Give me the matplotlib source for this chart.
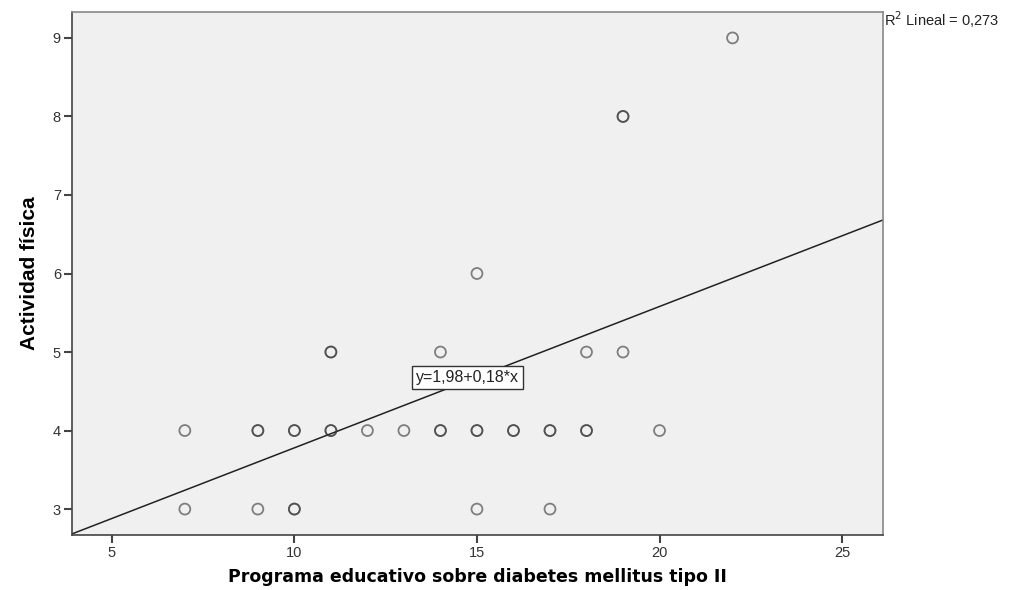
import numpy as np
import matplotlib.pyplot as plt

# programa educativo score vs actividad física score (repeated pairs listed as often as they occur)
programa = [7, 7, 9, 9, 9, 10, 10, 10, 10, 11, 11, 11, 11, 12, 13, 14, 14, 14,
            15, 15, 15, 15, 16, 16, 17, 17, 17, 18, 18, 18, 19, 19, 19, 20, 22]
actividad = [4, 3, 4, 4, 3, 4, 4, 3, 3, 5, 5, 4, 4, 4, 4, 5, 4, 4,
             6, 4, 4, 3, 4, 4, 4, 4, 3, 5, 4, 4, 8, 8, 5, 4, 9]

intercept = 1.98
slope = 0.18
r2 = 0.273

xlim = (3.91, 26.12)
ylim = (2.67, 9.33)

fig = plt.figure(figsize=(10.22, 5.9), dpi=100)
ax = fig.add_axes([72 / 1022, 1 - 535 / 590, (883 - 72) / 1022, (535 - 12) / 590])
ax.set_facecolor('#f0f0f0')

ax.scatter(programa, actividad, s=62, facecolors='none',
           edgecolors=(0.2, 0.2, 0.2, 0.6), linewidths=1.3, zorder=3)

xx = np.array(xlim)
ax.plot(xx, intercept + slope * xx, color='#222222', lw=1.1, zorder=2)

ax.text(14.73, 4.67, 'y=1,98+0,18*x', ha='center', va='center', fontsize=11.5,
        family='Liberation Sans', color='#222222', zorder=4,
        bbox=dict(boxstyle='square,pad=0.25', fc='white', ec='#333333', lw=1))

ax.set_xlim(xlim)
ax.set_ylim(ylim)
ax.set_xticks([5, 10, 15, 20, 25])
ax.set_yticks([3, 4, 5, 6, 7, 8, 9])

for s in ax.spines.values():
    s.set_color('#444444')
    s.set_linewidth(1.2)
ax.spines['right'].set_color('#888888')
ax.spines['top'].set_color('#888888')

ax.tick_params(direction='out', length=6, width=1.5, color='#444444',
               labelsize=10.5, labelcolor='#333333', pad=2)
for lab in ax.get_xticklabels() + ax.get_yticklabels():
    lab.set_family('Liberation Sans')

ax.set_xlabel('Programa educativo sobre diabetes mellitus tipo II',
              fontsize=12.5, fontweight='bold', family='DejaVu Sans', labelpad=6)
ax.set_ylabel('Actividad física', fontsize=15, fontweight='bold',
              family='Liberation Sans', labelpad=10)
ax.yaxis.label.set_stretch('condensed')

fig.text(884 / 1022, 1 - 20 / 590, 'R$^2$ Lineal = 0,273', fontsize=10.5,
         family='Liberation Sans', va='center', ha='left', color='#222222')

plt.savefig('out.png', dpi=100)
